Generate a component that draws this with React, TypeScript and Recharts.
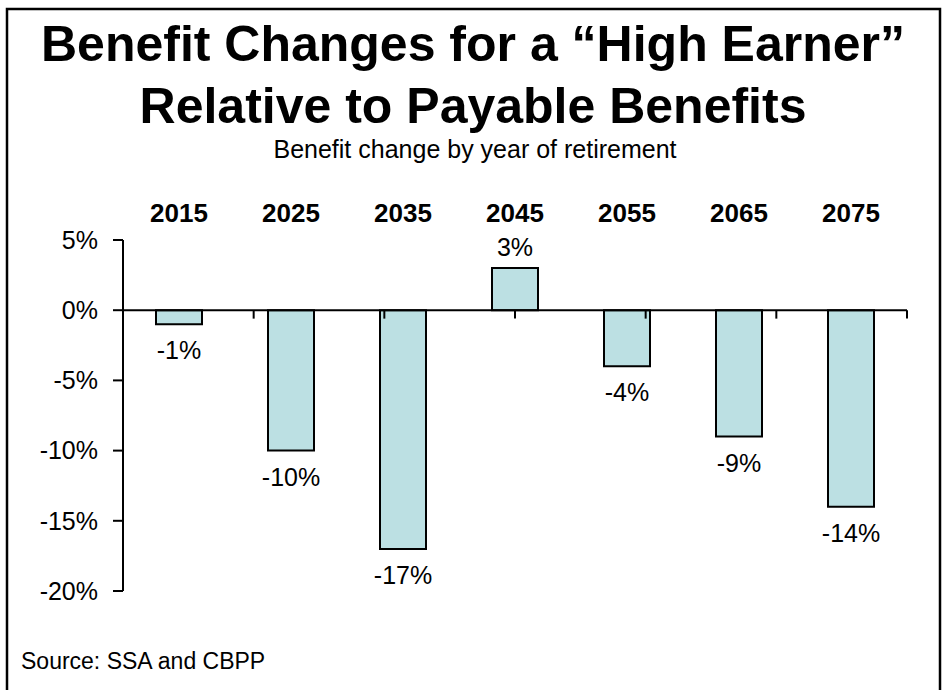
import { Bar, BarChart, LabelList, ReferenceLine, XAxis, YAxis } from "recharts";

// values
const years = ["2015", "2025", "2035", "2045", "2055", "2065", "2075"];
const changes = [-1, -10, -17, 3, -4, -9, -14];
const yTicks = [5, 0, -5, -10, -15, -20];
const boundaries = [1, 2, 3, 4, 5, 6, 7];

const FONT = "Arial, 'Liberation Sans', sans-serif";
const BAR_FILL = "#bce0e3";

const data = years.map((year, index) => ({ year, change: changes[index] }));

function ValueLabel(props: any) {
  const box = props.viewBox ?? props;
  const { x, y, width, height } = box;
  const value = changes[props.index] ?? props.value;
  const top = Math.min(y, y + height);
  const bottom = Math.max(y, y + height);
  const ty = value >= 0 ? top - 12 : bottom + 35;
  return (
    <text x={x + width / 2} y={ty} textAnchor="middle" fontSize={25} fontFamily={FONT} fill="#000">
      {`${value}%`}
    </text>
  );
}

export default function App() {
  return (
    <div
      style={{
        position: "absolute",
        left: 0,
        top: 0,
        width: 946,
        height: 690,
        overflow: "hidden",
        background: "#fff",
      }}
    >
      <BarChart
        width={946}
        height={690}
        data={data}
        margin={{ top: 210, right: 39, bottom: 99, left: 0 }}
        barSize={46}
      >
        <XAxis
          dataKey="year"
          orientation="top"
          height={30}
          axisLine={false}
          tickLine={false}
          tickSize={0}
          tickMargin={18}
          interval={0}
          tick={{ fontSize: 26, fontWeight: "bold", fontFamily: FONT, fill: "#000" }}
        />
        <XAxis xAxisId="edge" type="number" domain={[0, 7]} allowDataOverflow hide />
        <YAxis
          width={123}
          domain={[-20, 5]}
          ticks={yTicks}
          interval={0}
          allowDataOverflow
          axisLine={{ stroke: "#000", strokeWidth: 2 }}
          tickLine={{ stroke: "#000", strokeWidth: 2 }}
          tickSize={10}
          tickMargin={15}
          tickFormatter={(v: number) => `${v}%`}
          tick={{ fontSize: 25, fontFamily: FONT, fill: "#000" }}
        />
        <Bar dataKey="change" fill={BAR_FILL} stroke="#000" strokeWidth={2} isAnimationActive={false}>
          <LabelList dataKey="change" content={ValueLabel} />
        </Bar>
        <ReferenceLine y={0} stroke="#000" strokeWidth={2} />
        {boundaries.map((b) => (
          <ReferenceLine
            key={b}
            xAxisId="edge"
            segment={[
              { x: b, y: 0 },
              { x: b, y: -0.6 },
            ]}
            stroke="#000"
            strokeWidth={2}
            ifOverflow="visible"
          />
        ))}
      </BarChart>
      <svg
        width={946}
        height={690}
        style={{ position: "absolute", left: 0, top: 0, pointerEvents: "none" }}
      >
        <rect x={7} y={9} width={933} height={700} fill="none" stroke="#000" strokeWidth={2.5} />
        <text x={473} y={61} textAnchor="middle" fontSize={50} fontWeight="bold" fontFamily={FONT} fill="#000">
          Benefit Changes for a “High Earner”
        </text>
        <text x={473} y={123} textAnchor="middle" fontSize={50} fontWeight="bold" fontFamily={FONT} fill="#000">
          Relative to Payable Benefits
        </text>
        <text x={475} y={158} textAnchor="middle" fontSize={25} fontFamily={FONT} fill="#000">
          Benefit change by year of retirement
        </text>
        <text x={21} y={669} fontSize={23} fontFamily={FONT} fill="#000">
          Source: SSA and CBPP
        </text>
      </svg>
    </div>
  );
}
